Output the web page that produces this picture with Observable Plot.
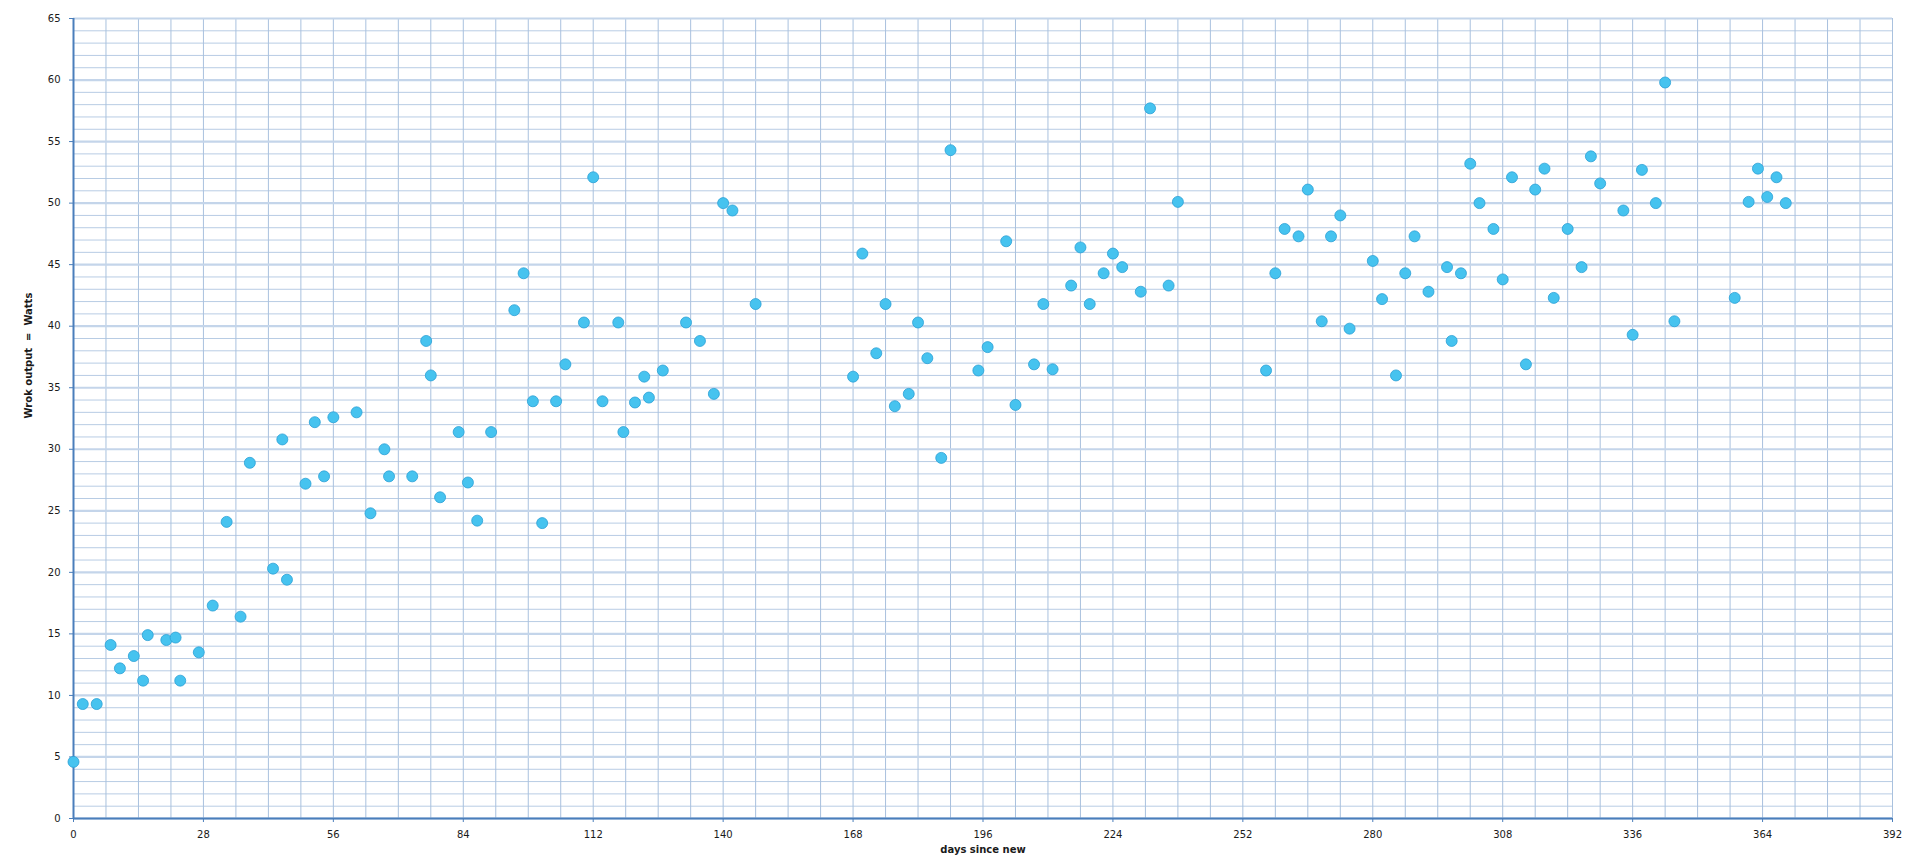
<!DOCTYPE html>
<html>
<head>
<meta charset="utf-8">
<script src="https://cdn.jsdelivr.net/npm/d3@7"></script>
<script src="https://cdn.jsdelivr.net/npm/@observablehq/plot@0.6"></script>
<style>
  html, body { margin: 0; padding: 0; background: #ffffff; }
  #chart { width: 1920px; height: 861px; }
  #chart svg { display: block; }
</style>
</head>
<body>
<div id="chart"></div>
<script>
// ---- data ----
const days = [
  0, 2, 5, 8, 10, 13, 15, 16, 20, 22, 23, 27, 30, 33, 36, 38, 43, 45, 46, 50,
  52, 54, 56, 61, 64, 67, 68, 73, 76, 77, 79, 83, 85, 87, 90, 95, 97, 99, 101, 104,
  106, 110, 112, 114, 117.4, 118.5, 121, 123, 124, 127, 132, 135, 138, 140, 142, 147,
  168, 170, 173, 175, 177, 180, 182, 184, 187, 189, 195, 197, 201, 203, 207, 209, 211,
  215, 217, 219, 222, 224, 226, 230, 232, 236, 238,
  257, 259, 261, 264, 266, 269, 271, 273, 275, 280, 282, 285, 287, 289, 292, 296, 297,
  299, 301, 303, 306, 308, 310, 313, 315, 317, 319, 322, 325, 327, 329, 334, 336, 338,
  341, 343, 345, 358, 361, 363, 365, 367, 369
];
const watts = [
  4.6, 9.3, 9.3, 14.1, 12.2, 13.2, 11.2, 14.9, 14.5, 14.7, 11.2, 13.5, 17.3, 24.1, 16.4, 28.9, 20.3, 30.8, 19.4, 27.2,
  32.2, 27.8, 32.6, 33.0, 24.8, 30.0, 27.8, 27.8, 38.8, 36.0, 26.1, 31.4, 27.3, 24.2, 31.4, 41.3, 44.3, 33.9, 24.0, 33.9,
  36.9, 40.3, 52.1, 33.9, 40.3, 31.4, 33.8, 35.9, 34.2, 36.4, 40.3, 38.8, 34.5, 50.0, 49.4, 41.8,
  35.9, 45.9, 37.8, 41.8, 33.5, 34.5, 40.3, 37.4, 29.3, 54.3, 36.4, 38.3, 46.9, 33.6, 36.9, 41.8, 36.5,
  43.3, 46.4, 41.8, 44.3, 45.9, 44.8, 42.8, 57.7, 43.3, 50.1,
  36.4, 44.3, 47.9, 47.3, 51.1, 40.4, 47.3, 49.0, 39.8, 45.3, 42.2, 36.0, 44.3, 47.3, 42.8, 44.8, 38.8,
  44.3, 53.2, 50.0, 47.9, 43.8, 52.1, 36.9, 51.1, 52.8, 42.3, 47.9, 44.8, 53.8, 51.6, 49.4, 39.3, 52.7,
  50.0, 59.8, 40.4, 42.3, 50.1, 52.8, 50.5, 52.1, 50.0
];
const xTicks = [0, 28, 56, 84, 112, 140, 168, 196, 224, 252, 280, 308, 336, 364, 392];
const yTicks = [0, 5, 10, 15, 20, 25, 30, 35, 40, 45, 50, 55, 60, 65];
const xLabel = "days since new";
const yLabel = "Wrok output\u00a0 =\u00a0 Watts";

// ---- derived tables ----
const points = days.map((d, i) => ({day: d, watts: watts[i]}));
const xGrid = d3.range(0, 393, 7);          // minor vertical gridlines every 7 days
const yGridMinor = d3.range(0, 66, 1).filter(v => v % 5 !== 0);
const yGridMajor = yTicks;

const axisColor = "#4a7ebb";
const textColor = "#1a1a1a";

const chart = Plot.plot({
  width: 1920,
  height: 861,
  marginLeft: 73,
  marginRight: 28,
  marginTop: 18,
  marginBottom: 43,
  style: {fontFamily: "DejaVu Sans", fontSize: "10px", background: "#ffffff", color: textColor},
  x: {domain: [0, 392]},
  y: {domain: [0, 65]},
  marks: [
    Plot.ruleY(yGridMinor, {stroke: "#b8cce4", strokeWidth: 1}),
    Plot.ruleX(xGrid, {stroke: "#a9c1de", strokeWidth: 1}),
    Plot.ruleY(yGridMajor, {stroke: "#c4d5ea", strokeWidth: 2.2}),
    Plot.axisX(xTicks, {tickSize: 4, tickPadding: 8, stroke: axisColor, fill: textColor, label: null, fontSize: 10}),
    Plot.axisY(yTicks, {tickSize: 4, tickPadding: 9, stroke: axisColor, fill: textColor, label: null, fontSize: 10}),
    Plot.ruleX([0], {stroke: axisColor, strokeWidth: 2}),
    Plot.ruleY([0], {stroke: axisColor, strokeWidth: 2}),
    Plot.dot(points, {x: "day", y: "watts", r: 5.5, fill: "#46c3ef", stroke: "#2a9fd6", strokeWidth: 0.8}),
    Plot.text([yLabel], {text: d => d, frameAnchor: "left", dx: -45, rotate: -90, fontWeight: "bold", fontSize: 10, fill: textColor}),
    Plot.text([xLabel], {text: d => d, frameAnchor: "bottom", dy: 34, fontWeight: "bold", fontSize: 10, fill: textColor})
  ]
});
document.getElementById("chart").appendChild(chart);
</script>
</body>
</html>
